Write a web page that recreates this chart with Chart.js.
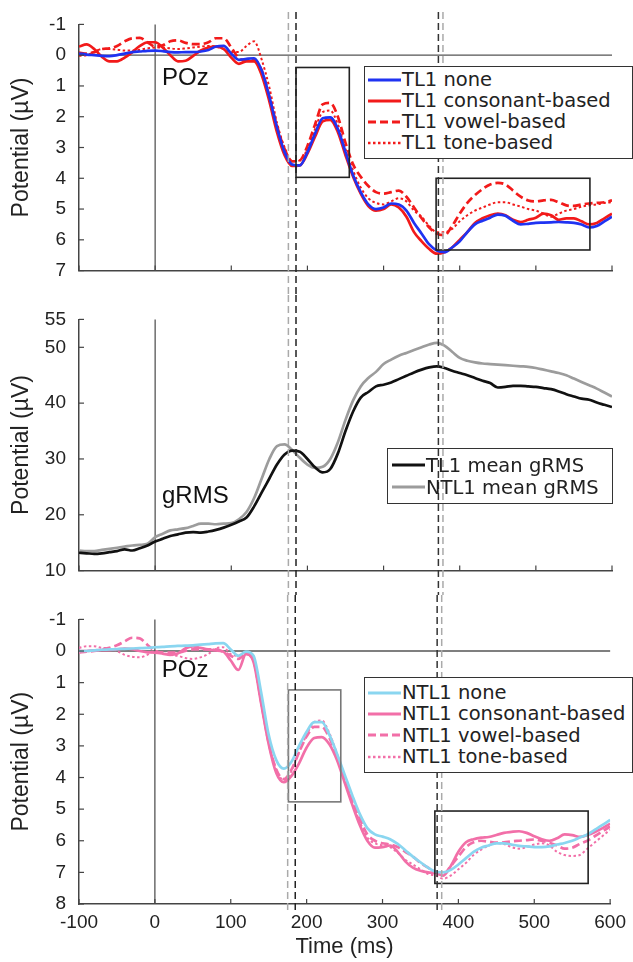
<!DOCTYPE html>
<html lang="en">
<head>
<meta charset="UTF-8">
<title>POz ERPs and gRMS</title>
<script src="https://cdn.jsdelivr.net/npm/chart.js"></script>
<style>
  body { margin: 0; background: #fff; width: 633px; height: 962px; position: relative; overflow: hidden; }
  canvas { position: absolute; left: 0; }
  .legend { position: absolute; box-sizing: border-box; border: 1.5px solid #333;
            font-family: "DejaVu Sans", Verdana, sans-serif; font-size: 19.5px; color: #222; }
  .legend .row { display: flex; align-items: center; white-space: nowrap; }
  .legend svg { flex: none; margin-right: 1px; }
</style>
</head>
<body>
<canvas id="topChart" width="633" height="295" style="top:0px"></canvas>
<canvas id="midChart" width="633" height="300" style="top:295px"></canvas>
<canvas id="botChart" width="633" height="367" style="top:595px"></canvas>
<div id="legTop" class="legend" style="left:364px;top:66px;width:269px;height:93px;padding:2px 0 0 3px;background:#fff"></div>
<div id="legMid" class="legend" style="left:387px;top:448px;width:226px;height:56px;padding:5px 0 0 4px;background:transparent"></div>
<div id="legBot" class="legend" style="left:364px;top:677px;width:269px;height:96px;padding:4px 0 0 3px;background:#fff"></div>

<script>
// time axis (ms)
const timeMs = [-100,-90,-80,-70,-60,-50,-40,-30,-20,-10,
  0,10,20,30,40,50,60,70,80,90,
  100,110,120,130,140,150,160,170,180,190,
  200,210,220,230,240,250,260,270,280,290,
  300,310,320,330,340,350,360,370,380,390,
  400,410,420,430,440,450,460,470,480,490,
  500,510,520,530,540,550,560,570,580,590,
  600];

// top panel: TL1 at POz (µV)
const tl1None = [-0.05,-0.02,0.0,0.02,0.03,0.0,-0.05,-0.1,-0.12,-0.14,
  -0.15,-0.13,-0.1,-0.09,-0.1,-0.1,-0.12,-0.17,-0.28,-0.3,
  -0.05,0.15,0.12,0.1,0.5,1.35,2.35,3.15,3.55,3.58,
  3.15,2.55,2.05,2.02,2.4,3.15,3.9,4.45,4.85,5.0,
  4.95,4.82,4.85,5.05,5.45,5.8,6.15,6.35,6.4,6.25,
  6.05,5.75,5.5,5.38,5.28,5.18,5.22,5.38,5.5,5.48,
  5.45,5.44,5.43,5.42,5.43,5.45,5.5,5.6,5.55,5.4,
  5.25];
const tl1Cons = [-0.28,-0.35,-0.2,0.05,0.2,0.2,0.08,-0.1,-0.3,-0.42,
  -0.42,-0.25,0.0,0.2,0.18,0.02,-0.15,-0.25,-0.28,-0.2,
  0.08,0.28,0.2,0.2,0.65,1.5,2.5,3.25,3.6,3.58,
  3.2,2.65,2.15,2.1,2.5,3.25,3.95,4.5,4.9,5.05,
  5.0,4.85,4.95,5.25,5.75,6.05,6.3,6.45,6.4,6.25,
  6.0,5.75,5.45,5.3,5.2,5.15,5.2,5.35,5.42,5.35,
  5.28,5.15,5.2,5.35,5.3,5.3,5.4,5.5,5.45,5.3,
  5.15];
const tl1Vowel = [-0.08,-0.05,-0.1,-0.2,-0.22,-0.3,-0.45,-0.55,-0.56,-0.42,
  -0.28,-0.32,-0.45,-0.48,-0.4,-0.36,-0.36,-0.42,-0.55,-0.55,
  -0.25,0.1,0.18,0.15,0.5,1.35,2.3,3.05,3.45,3.42,
  2.95,2.25,1.6,1.55,2.0,2.85,3.55,3.95,4.25,4.45,
  4.5,4.45,4.4,4.6,4.95,5.3,5.6,5.8,5.85,5.55,
  5.15,4.8,4.55,4.35,4.2,4.15,4.2,4.4,4.6,4.72,
  4.75,4.72,4.7,4.78,4.88,4.9,4.85,4.82,4.8,4.78,
  4.72];
const tl1Tone = [0.02,0.0,-0.1,-0.2,-0.2,-0.18,-0.15,-0.15,-0.18,-0.22,
  -0.25,-0.25,-0.22,-0.2,-0.22,-0.25,-0.28,-0.3,-0.28,-0.2,
  -0.1,-0.1,-0.3,-0.45,0.15,1.05,2.2,3.0,3.45,3.42,
  3.05,2.4,1.85,1.8,2.25,3.05,3.75,4.3,4.65,4.8,
  4.85,4.75,4.65,4.75,5.05,5.25,5.55,5.75,5.75,5.65,
  5.4,5.2,5.05,4.95,4.85,4.78,4.78,4.85,4.92,5.0,
  5.05,5.15,5.25,5.15,5.05,5.0,4.92,4.88,4.85,4.8,
  4.78];

// middle panel: mean gRMS (µV)
const gTL1 = [13.2,13.1,13.0,13.1,13.3,13.5,13.8,13.6,14.0,14.5,
  15.2,15.7,16.2,16.5,16.8,16.9,16.8,17.0,17.3,17.7,
  18.2,18.8,19.5,21.5,24.0,26.5,29.0,30.8,31.5,31.3,
  30.0,28.5,27.6,28.2,31.0,35.0,38.5,41.0,42.0,43.0,
  43.3,43.7,44.3,44.9,45.5,46.0,46.4,46.6,46.3,45.8,
  45.4,45.0,44.5,44.0,43.6,42.8,42.9,43.1,43.1,43.0,
  42.9,42.7,42.5,42.1,41.6,41.2,40.8,40.6,40.1,39.7,
  39.3];
const gNTL1 = [13.6,13.5,13.5,13.7,13.9,14.1,14.3,14.5,14.6,14.8,
  16.0,16.6,17.2,17.4,17.6,18.0,18.4,18.4,18.3,18.4,
  18.5,19.2,20.5,23.0,26.5,30.0,32.3,32.6,31.6,30.2,
  29.0,28.4,28.6,30.0,33.0,37.0,40.5,43.0,44.5,45.6,
  47.0,47.8,48.5,49.0,49.5,50.0,50.5,50.8,50.3,49.2,
  48.1,47.6,47.3,47.1,47.0,46.9,46.8,46.7,46.6,46.5,
  46.3,46.0,45.7,45.4,45.0,44.4,43.8,43.2,42.6,41.9,
  41.2];

// bottom panel: NTL1 at POz (µV)
const ntl1None = [0.0,0.0,-0.02,-0.04,-0.05,-0.06,-0.07,-0.08,-0.09,-0.1,
  -0.12,-0.13,-0.15,-0.16,-0.17,-0.18,-0.2,-0.22,-0.24,-0.25,
  -0.05,0.15,0.02,0.15,1.3,2.65,3.45,3.72,3.5,3.0,
  2.55,2.25,2.25,2.65,3.25,3.9,4.55,5.15,5.6,5.8,
  5.87,5.95,6.1,6.3,6.5,6.68,6.85,6.98,7.0,6.92,
  6.75,6.55,6.35,6.22,6.15,6.08,6.08,6.12,6.16,6.18,
  6.2,6.2,6.18,6.12,6.07,6.0,5.9,5.8,5.65,5.5,
  5.34];
const ntl1Cons = [0.0,0.0,-0.02,-0.03,-0.03,-0.05,-0.08,-0.06,0.0,0.04,
  0.05,0.08,0.12,0.08,-0.08,-0.15,-0.1,-0.05,-0.02,0.02,
  0.3,0.6,0.1,0.35,1.65,2.95,3.86,4.15,3.95,3.55,
  3.05,2.75,2.72,2.95,3.45,4.15,4.85,5.5,6.0,6.22,
  6.2,6.15,6.35,6.65,6.85,6.95,7.0,7.02,7.1,6.8,
  6.35,6.05,5.95,5.9,5.88,5.82,5.75,5.72,5.7,5.75,
  5.86,5.95,6.0,5.92,5.8,5.82,5.88,5.82,5.72,5.6,
  5.46];
const ntl1Vowel = [0.05,0.02,0.0,-0.05,-0.1,-0.18,-0.3,-0.42,-0.4,-0.2,
  0.0,0.05,0.05,0.05,0.0,-0.05,-0.05,-0.05,-0.05,0.02,
  0.15,0.25,0.1,0.3,1.6,2.9,3.75,4.05,3.75,3.2,
  2.7,2.4,2.4,2.75,3.35,4.05,4.7,5.3,5.8,6.0,
  6.08,6.12,6.2,6.35,6.5,6.7,6.85,6.98,7.05,6.8,
  6.5,6.2,6.05,6.0,6.03,6.06,6.05,6.02,6.0,5.98,
  5.96,6.0,6.06,6.15,6.25,6.22,6.1,6.0,5.85,5.7,
  5.55];
const ntl1Tone = [-0.1,-0.15,-0.15,-0.1,-0.08,0.0,0.12,0.18,0.2,0.12,
  0.0,0.05,0.12,0.15,0.22,0.25,0.2,0.1,-0.08,-0.12,
  0.1,0.15,0.05,0.3,1.6,2.9,3.75,4.08,3.8,3.2,
  2.65,2.25,2.2,2.6,3.25,4.0,4.75,5.4,5.9,6.08,
  6.15,6.2,6.38,6.6,6.75,6.9,7.05,7.1,7.2,7.1,
  6.9,6.7,6.45,6.28,6.15,6.08,6.1,6.2,6.25,6.2,
  6.12,6.08,6.15,6.35,6.45,6.48,6.45,6.25,6.05,5.85,
  5.65];

// ticks
const xTicks = [-100,0,100,200,300,400,500,600];
const topTicks = [-1,0,1,2,3,4,5,6,7];
const midTicks = [10,20,30,40,50,55];
const botTicks = [-1,0,1,2,3,4,5,6,7,8];

// markers and analysis windows [t0, t1, v0, v1]
const markerMs = [175,185,372,378];
const topBoxes = [[185,255,0.4,3.97],[369,571,4.0,6.33]];
const botBoxes = [[176,245,1.23,4.77],[369,571,5.06,7.35]];

const topLabels = ['TL1 none','TL1 consonant-based','TL1 vowel-based','TL1 tone-based'];
const midLabels = ['TL1 mean gRMS','NTL1 mean gRMS'];
const botLabels = ['NTL1 none','NTL1 consonant-based','NTL1 vowel-based','NTL1 tone-based'];

const BLUE = '#1f33f2', RED = '#f21a1a', CYAN = '#8ad6f0', PINK = '#f26fa8';
const DASH = [8,4], DOT = [2.5,2.5];
const markerColors = ['#aaaaaa','#222222','#333333','#aaaaaa'];

function pts(vals) { return timeMs.map((t, i) => ({x: t, y: vals[i]})); }
function ds(label, vals, color, dash, width) {
  return { label, data: pts(vals), borderColor: color, borderWidth: width || 2.7,
    borderDash: dash || [], pointRadius: 0, cubicInterpolationMode: 'monotone', fill: false };
}

function line(ctx, x1, y1, x2, y2) { ctx.beginPath(); ctx.moveTo(x1, y1); ctx.lineTo(x2, y2); ctx.stroke(); }

const decor = {
  id: 'decor',
  beforeDatasetsDraw(chart, args, o) {
    const {ctx, chartArea: a, scales: {x, y}} = chart;
    ctx.save();
    ctx.strokeStyle = '#555'; ctx.lineWidth = 1.3;
    const x0 = x.getPixelForValue(0);
    line(ctx, x0, a.top, x0, a.bottom);
    if (o.zero) { const y0 = y.getPixelForValue(0); line(ctx, a.left, y0, a.right, y0); }
    ctx.restore();
  },
  afterDatasetsDraw(chart, args, o) {
    const {ctx, chartArea: a, scales: {x, y}} = chart;
    ctx.save();
    // analysis windows
    (o.boxes || []).forEach((b, i) => {
      ctx.strokeStyle = o.boxColors[i]; ctx.lineWidth = 1.6;
      const l = x.getPixelForValue(b[0]), r = x.getPixelForValue(b[1]);
      const t = y.getPixelForValue(b[2]), btm = y.getPixelForValue(b[3]);
      ctx.strokeRect(l, Math.min(t, btm), r - l, Math.abs(btm - t));
    });
    // dashed latency markers across the whole figure
    ctx.lineWidth = 1.5; ctx.setLineDash([7,4]);
    markerMs.forEach((m, i) => {
      ctx.strokeStyle = markerColors[i];
      const px = x.getPixelForValue(m);
      line(ctx, px, o.dashTop, px, o.dashBottom === 'area' ? a.bottom + 6 : chart.height);
    });
    ctx.setLineDash([]);
    // inward ticks
    ctx.strokeStyle = '#444'; ctx.lineWidth = 1.2;
    xTicks.forEach(v => { const px = x.getPixelForValue(v); line(ctx, px, a.bottom, px, a.bottom - 5); });
    y.ticks.forEach(t => { const py = y.getPixelForValue(t.value); line(ctx, a.left, py, a.left + 5, py); });
    // panel label
    ctx.fillStyle = '#111';
    ctx.font = '24px "Liberation Sans", Arial, sans-serif';
    ctx.textBaseline = 'middle';
    ctx.fillText(o.label.text, x.getPixelForValue(o.label.x), y.getPixelForValue(o.label.y));
    ctx.restore();
  }
};

const FONT = '"Liberation Sans", Arial, sans-serif';
Chart.defaults.font.family = FONT;
Chart.defaults.color = '#222';

function makeChart(id, datasets, yCfg, withXLabels, pad, deco) {
  const axisCommon = {
    border: { display: true, color: '#444', width: 1.5 },
    grid: { display: true, drawOnChartArea: false, drawTicks: false }
  };
  return new Chart(document.getElementById(id), {
    type: 'line',
    data: { datasets },
    options: {
      responsive: false, animation: false, events: [],
      layout: { padding: pad },
      plugins: { legend: { display: false }, tooltip: { enabled: false }, decor: deco },
      scales: {
        x: Object.assign({}, axisCommon, {
          type: 'linear', min: -100, max: 600,
          afterBuildTicks: s => { s.ticks = xTicks.map(v => ({value: v})); },
          afterFit: s => { s.height = withXLabels ? 58 : 0; },
          ticks: { display: withXLabels, padding: 7, font: { size: 19 } },
          title: { display: withXLabels, text: 'Time (ms)', font: { size: 22 }, padding: { top: 0, bottom: 2 } }
        }),
        y: Object.assign({}, axisCommon, {
          type: 'linear', min: yCfg.min, max: yCfg.max, reverse: yCfg.reverse,
          afterBuildTicks: s => { s.ticks = yCfg.ticks.map(v => ({value: v})); },
          afterFit: s => { s.width = 79; },
          ticks: { padding: 13, font: { size: 19 } },
          title: { display: true, text: 'Potential (µV)', font: { size: 23 }, padding: { top: 8, bottom: 0 } }
        })
      }
    },
    plugins: [decor]
  });
}

makeChart('topChart', [
  ds(topLabels[0], tl1None, BLUE),
  ds(topLabels[1], tl1Cons, RED),
  ds(topLabels[2], tl1Vowel, RED, DASH),
  ds(topLabels[3], tl1Tone, RED, DOT, 2)
], { min: -1, max: 7, reverse: true, ticks: topTicks }, false,
  { top: 19, bottom: 10, left: 0, right: 21 },
  { zero: true, boxes: topBoxes, boxColors: ['#222','#222'], dashTop: 12, dashBottom: 'canvas',
    label: { text: 'POz', x: 9, y: 0.75 } });

makeChart('midChart', [
  ds(midLabels[0], gTL1, '#111'),
  ds(midLabels[1], gNTL1, '#9c9c9c')
], { min: 10, max: 55, reverse: false, ticks: midTicks }, false,
  { top: 19, bottom: 20, left: 0, right: 21 },
  { zero: false, boxes: [], boxColors: [], dashTop: 0, dashBottom: 'canvas',
    label: { text: 'gRMS', x: 9, y: 23.3 } });

makeChart('botChart', [
  ds(botLabels[0], ntl1None, CYAN),
  ds(botLabels[1], ntl1Cons, PINK),
  ds(botLabels[2], ntl1Vowel, PINK, DASH),
  ds(botLabels[3], ntl1Tone, PINK, DOT, 2)
], { min: -1, max: 8, reverse: true, ticks: botTicks }, true,
  { top: 9, bottom: 0, left: 0, right: 21 },
  { zero: true, boxes: botBoxes, boxColors: ['#777','#222'], dashTop: 0, dashBottom: 'area',
    label: { text: 'POz', x: 9, y: 0.62 } });

// HTML legends
function legend(id, labels, styles, rowH) {
  const box = document.getElementById(id);
  labels.forEach((lab, i) => {
    const s = styles[i];
    const row = document.createElement('div');
    row.className = 'row';
    row.style.height = rowH + 'px';
    row.innerHTML = '<svg width="33" height="8"><line x1="0" y1="4" x2="33" y2="4" stroke="' + s[0] +
      '" stroke-width="' + (s[2] || 3) + '" stroke-dasharray="' + (s[1] ? s[1].join(' ') : 'none') + '"/></svg>' +
      '<span>' + lab + '</span>';
    box.appendChild(row);
  });
}
legend('legTop', topLabels, [[BLUE], [RED], [RED, DASH], [RED, DOT, 2.5]], 21);
legend('legMid', midLabels, [['#111'], ['#9c9c9c']], 22);
legend('legBot', botLabels, [[CYAN], [PINK], [PINK, DASH], [PINK, DOT, 2.5]], 21.3);
</script>
</body>
</html>
